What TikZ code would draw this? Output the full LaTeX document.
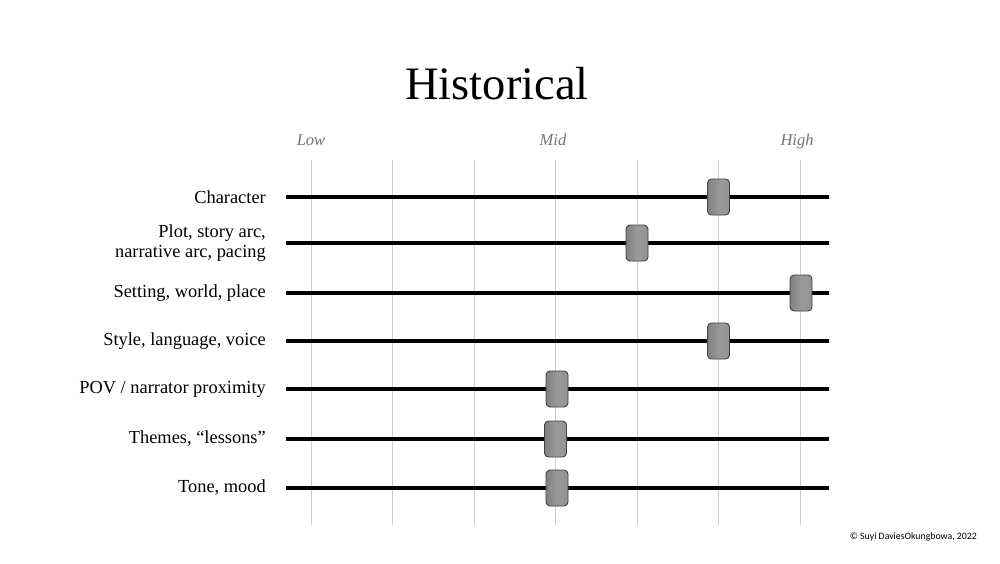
\documentclass[tikz,border=0pt]{standalone}
\usepackage{fontspec}
\setmainfont{Liberation Serif}
\newfontfamily\credfont{Carlito}
\begin{document}
\begin{tikzpicture}[x=1pt,y=-1pt,
  grid/.style={draw=black!20,line width=1pt},
  bar/.style={draw=black,line width=4.2pt},
  knob/.style={rectangle,rounded corners=4pt,draw=black!75,line width=0.9pt,
    minimum width=22pt,minimum height=36pt,inner sep=0pt,
    left color=black!50,right color=black!42,middle color=black!40},
  lab/.style={anchor=east,align=right,font=\fontsize{18.4}{19.5}\selectfont,inner sep=0pt},
  scalelab/.style={anchor=base,font=\fontsize{16.5}{18}\selectfont\itshape,text=black!55,inner sep=0pt}]
\useasboundingbox (0,0) rectangle (1000,563);
\node[font=\fontsize{46.5}{50}\selectfont,inner sep=0pt] (title) at (497,84) {Historical};
\foreach \i/\x in {1/311,2/392.5,3/474,4/555.5,5/637,6/718.5,7/800}{
  \coordinate (gt\i) at (\x,160);
  \coordinate (gb\i) at (\x,525);
  \draw[grid] (gt\i) -- (gb\i);
}
\node[scalelab] (low) at (311,145) {Low};
\node[scalelab] (mid) at (553,145) {Mid};
\node[scalelab] (high) at (797,145) {High};
\foreach \n/\y/\k/\t in {1/197/718.5/{Character},
  2/243/637/{Plot, story arc,\\narrative arc, pacing},
  3/293/801/{Setting, world, place},
  4/341/718.5/{Style, language, voice},
  5/389/557/{POV / narrator proximity},
  6/439/555.5/{Themes, “lessons”},
  7/488/557/{Tone, mood}}{
  \coordinate (bl\n) at (286,\y);
  \coordinate (br\n) at (829,\y);
  \draw[bar] (bl\n) -- (br\n);
  \node[lab] (label\n) at (266,\y) {\t};
  \node[knob] (knob\n) at (\k,\y) {};
}
\node[font=\credfont\fontsize{9.8}{12}\selectfont,anchor=east,inner sep=0pt] (credit) at (977,537) {© Suyi DaviesOkungbowa, 2022};
\end{tikzpicture}
\end{document}
